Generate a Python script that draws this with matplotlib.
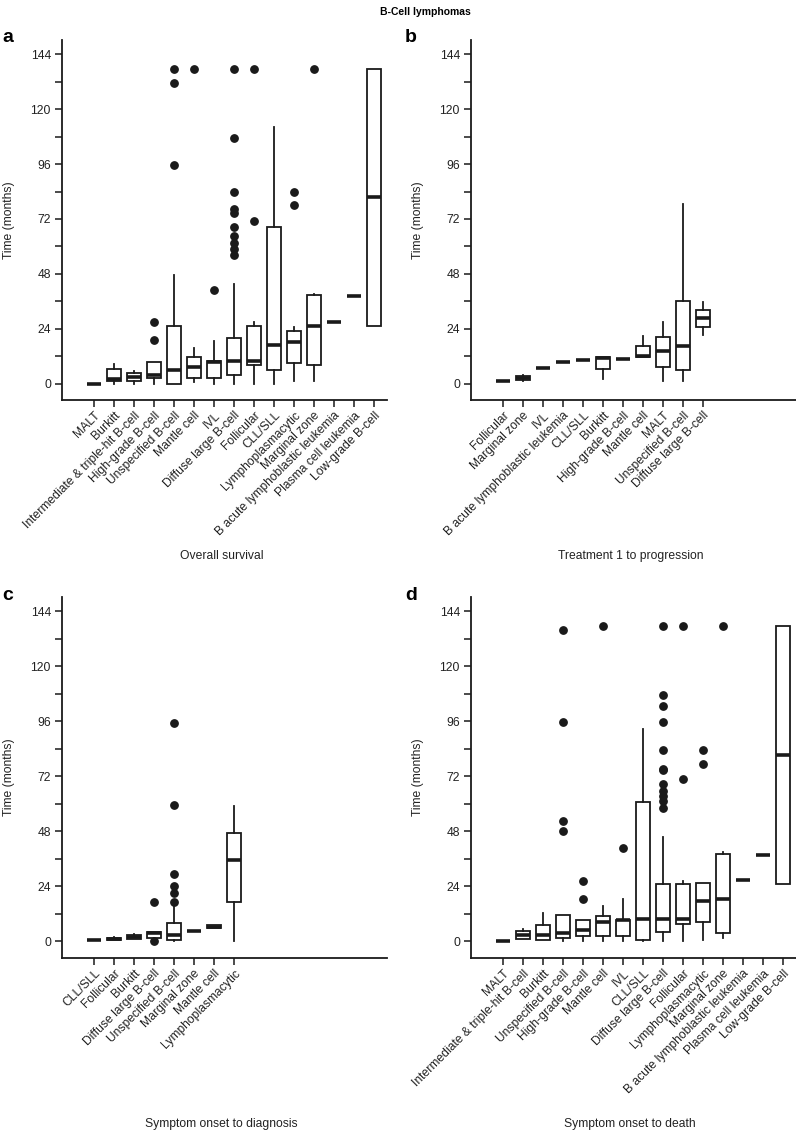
import matplotlib
matplotlib.use("Agg")
import matplotlib.pyplot as plt

plt.rcParams['font.family'] = ['Liberation Sans', 'DejaVu Sans']

# ---------------- data ----------------
cats_a = ["MALT", "Burkitt", "Intermediate & triple-hit B-cell", "High-grade B-cell",
          "Unspecified B-cell", "Mantle cell", "IVL", "Diffuse large B-cell", "Follicular",
          "CLL/SLL", "Lymphoplasmacytic", "Marginal zone", "B acute lymphoblastic leukemia",
          "Plasma cell leukemia", "Low-grade B-cell"]
whislo_a = [0, 0, 0, 0, 0, 0.6, 0, 0, 0, 0, 1.0, 1.0, 26.8, 38.1, 25.3]
q1_a = [0, 1.0, 1.1, 2.5, 0, 2.3, 2.6, 3.8, 7.9, 6.1, 8.9, 8.0, 26.8, 38.1, 25.3]
med_a = [0, 2.0, 2.8, 3.6, 6.1, 7.4, 9.5, 10.0, 9.9, 17.0, 18.0, 25.3, 26.8, 38.1, 81.4]
q3_a = [0, 6.4, 4.5, 9.5, 25.3, 11.5, 9.7, 20.1, 25.3, 68.7, 23.1, 38.9, 26.8, 38.1, 137.5]
whishi_a = [0, 8.7, 5.6, 9.5, 47.6, 15.7, 18.6, 43.5, 26.9, 112.4, 24.9, 39.3, 26.8, 38.1, 137.5]
fliers_a = [[], [], [], [26.9, 18.9], [137.5, 131.6, 95.6], [137.5], [40.8],
            [137.5, 107.6, 83.7, 76.2, 74.8, 68.7, 64.6, 61.7, 59.0, 56.3],
            [137.5, 70.9], [], [83.7, 77.9], [137.5], [], [], []]

cats_b = ["Follicular", "Marginal zone", "IVL", "B acute lymphoblastic leukemia", "CLL/SLL",
          "Burkitt", "High-grade B-cell", "Mantle cell", "MALT", "Unspecified B-cell",
          "Diffuse large B-cell"]
whislo_b = [0.9, 1.2, 7.0, 9.6, 10.3, 2.2, 10.9, 11.5, 1.2, 0.9, 21.1]
q1_b = [0.9, 1.6, 7.0, 9.6, 10.3, 6.5, 10.9, 11.5, 7.4, 5.9, 24.7]
med_b = [0.9, 2.4, 7.0, 9.6, 10.3, 11.3, 10.9, 12.0, 14.2, 16.6, 28.5]
q3_b = [0.9, 3.3, 7.0, 9.6, 10.3, 11.6, 10.9, 16.4, 20.3, 36.1, 32.1]
whishi_b = [0.9, 3.9, 7.0, 9.6, 10.3, 11.6, 10.9, 20.7, 26.9, 78.7, 35.6]
fliers_b = [[] for _ in cats_b]

cats_c = ["CLL/SLL", "Follicular", "Burkitt", "Diffuse large B-cell", "Unspecified B-cell",
          "Marginal zone", "Mantle cell", "Lymphoplasmacytic"]
whislo_c = [0.5, 0.6, 0.9, 1.0, 0, 4.5, 5.8, 0]
q1_c = [0.5, 0.6, 0.9, 1.7, 0.6, 4.5, 5.8, 17.3]
med_c = [0.5, 1.2, 1.9, 3.6, 2.9, 4.5, 6.5, 35.5]
q3_c = [0.5, 1.6, 2.8, 4.2, 7.9, 4.5, 7.1, 47.3]
whishi_c = [0.5, 2.0, 3.2, 4.2, 16.3, 4.5, 7.4, 58.9]
fliers_c = [[], [], [], [17.3, 0.0], [17.3, 21.2, 24.1, 29.4, 59.5, 95.4], [], [], []]

cats_d = ["MALT", "Intermediate & triple-hit B-cell", "Burkitt", "Unspecified B-cell",
          "High-grade B-cell", "Mantle cell", "IVL", "CLL/SLL", "Diffuse large B-cell",
          "Follicular", "Lymphoplasmacytic", "Marginal zone", "B acute lymphoblastic leukemia",
          "Plasma cell leukemia", "Low-grade B-cell"]
whislo_d = [0, 1.0, 0.7, 0.1, 0, 0.3, 0, 0, 0, 0, 0.7, 1.6, 26.7, 37.8, 25.2]
q1_d = [0, 1.0, 0.7, 1.6, 2.3, 2.5, 2.5, 0.5, 4.1, 7.6, 8.5, 3.5, 26.7, 37.8, 25.2]
med_d = [0, 2.9, 2.9, 3.9, 5.0, 8.5, 9.2, 9.8, 9.8, 9.6, 17.7, 18.4, 26.7, 37.8, 81.4]
q3_d = [0, 4.4, 7.0, 11.7, 9.2, 11.2, 9.5, 60.7, 24.9, 24.9, 25.5, 38.2, 26.7, 37.8, 137.6]
whishi_d = [0, 5.5, 12.5, 11.7, 9.2, 15.5, 18.4, 92.5, 45.4, 26.5, 25.5, 39.2, 26.7, 37.8, 137.6]
fliers_d = [[], [], [], [135.7, 95.7, 52.7, 48.4], [26.5, 18.5], [137.6], [40.6], [],
            [137.6, 107.7, 102.6, 95.6, 83.6, 75.3, 74.8, 68.6, 65.6, 63.6, 61.3, 58.1],
            [137.6, 70.9], [83.6, 77.6], [137.6], [], [], []]

y_ticks = [0, 12, 24, 36, 48, 60, 72, 84, 96, 108, 120, 132, 144]
y_ticklabels = ["0", "", "24", "", "48", "", "72", "", "96", "", "120", "", "144"]

panel_letters = ["a", "b", "c", "d"]
panel_titles = ["Overall survival", "Treatment 1 to progression",
                "Symptom onset to diagnosis", "Symptom onset to death"]
suptitle = "B-Cell lymphomas"

# ---------------- layout ----------------
W, H = 796, 1135
fig = plt.figure(figsize=(W / 100, H / 100), dpi=100)

def rect(left, top, right, bottom):
    return [left / W, 1 - bottom / H, (right - left) / W, (bottom - top) / H]

panels = [
    (rect(62, 40, 387, 400), cats_a, whislo_a, q1_a, med_a, q3_a, whishi_a, fliers_a, 156, (2, 42), 0),
    (rect(471, 40, 796, 400), cats_b, whislo_b, q1_b, med_b, q3_b, whishi_b, fliers_b, 156, (405, 42), 1),
    (rect(62, 597, 387, 958), cats_c, whislo_c, q1_c, med_c, q3_c, whishi_c, fliers_c, 166, (2, 600), 2),
    (rect(471, 597, 796, 958), cats_d, whislo_d, q1_d, med_d, q3_d, whishi_d, fliers_d, 166, (405, 600), 3),
]

FS = 8.7
for (r, cats, wlo, q1, med, q3, whi, fl, xlab_off, letter_xy, k) in panels:
    ax = fig.add_axes(r)
    stats = []
    for i in range(len(cats)):
        stats.append(dict(whislo=wlo[i], q1=q1[i], med=med[i], q3=q3[i],
                          whishi=whi[i], fliers=fl[i], label=cats[i]))
    pos = list(range(1, len(cats) + 1))
    ax.bxp(stats, positions=pos, widths=0.72, showcaps=False, patch_artist=True,
           boxprops=dict(facecolor="white", edgecolor="#1a1a1a", linewidth=1.3),
           whiskerprops=dict(color="#1a1a1a", linewidth=1.3),
           medianprops=dict(color="#1a1a1a", linewidth=2.6, solid_capstyle="butt"),
           flierprops=dict(marker="o", markerfacecolor="#1a1a1a", markeredgecolor="#1a1a1a",
                           markersize=5.3, linestyle="none"))
    ax.set_xlim(-0.6, 15.65)
    ax.set_ylim(-7.2, 150.3)
    ax.set_xticks(pos)
    ax.set_xticklabels(cats, rotation=45, ha="right", va="top",
                       rotation_mode="anchor", fontsize=FS, color="#222222")
    ax.set_yticks(y_ticks)
    ax.set_yticklabels(y_ticklabels, fontsize=FS, color="#222222")
    ax.tick_params(axis="both", direction="out", length=5, width=1.1, color="#1a1a1a", pad=2)
    ax.tick_params(axis="y", pad=3)
    for s in ["top", "right"]:
        ax.spines[s].set_visible(False)
    for s in ["left", "bottom"]:
        ax.spines[s].set_linewidth(1.3)
        ax.spines[s].set_color("#1a1a1a")
    ax.text(-53 / 325, 0.5, "Time (months)", rotation=90, ha="center", va="center",
            transform=ax.transAxes, fontsize=FS, color="#222222")
    ax_h_px = r[3] * H
    ax.text(0.49, -xlab_off / ax_h_px, panel_titles[k], ha="center", va="center",
            transform=ax.transAxes, fontsize=FS, color="#222222")
    fig.text(letter_xy[0] / W, 1 - letter_xy[1] / H, panel_letters[k], fontsize=14,
             fontweight="bold", ha="left", va="baseline")

fig.text(425 / W, 1 - 12 / H, suptitle, fontsize=7.5, fontweight="bold", ha="center", va="center")

fig.savefig("out.png", dpi=100)
